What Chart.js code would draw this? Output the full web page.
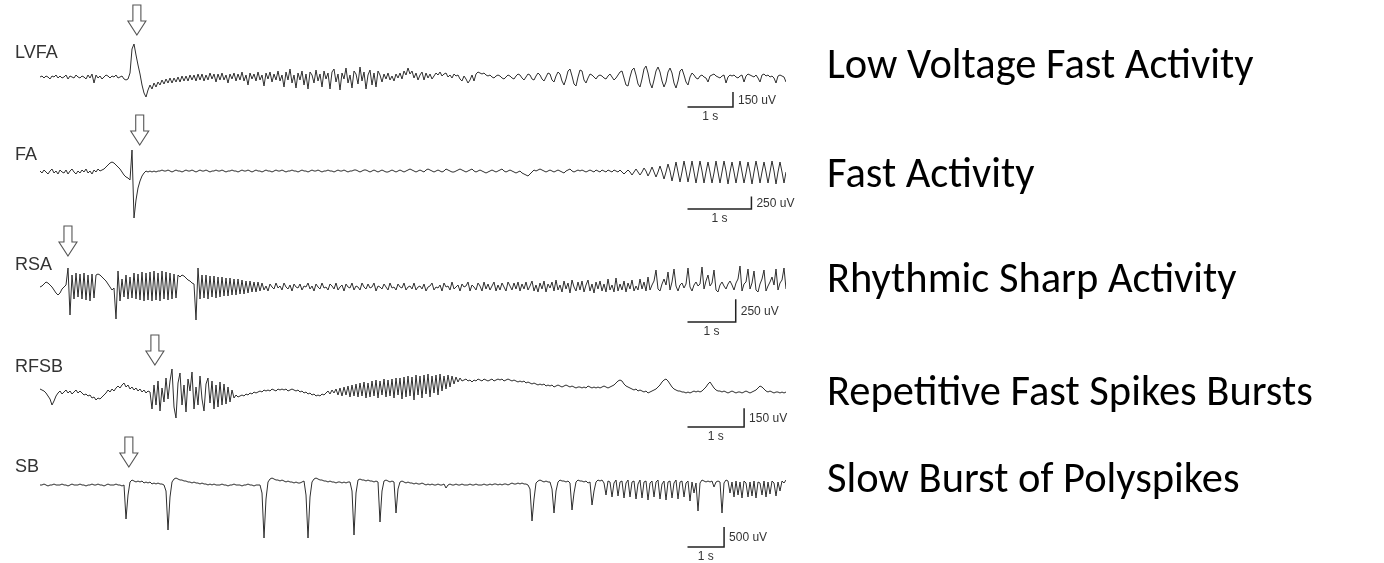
<!DOCTYPE html>
<html>
<head>
<meta charset="utf-8">
<script src="https://cdn.jsdelivr.net/npm/chart.js@4.4.1/dist/chart.umd.min.js"></script>
<style>
  html, body { margin: 0; padding: 0; background: #ffffff; }
  canvas { display: block; }
</style>
</head>
<body>
<canvas id="eeg" width="1384" height="563"></canvas>
<script>
// ---- Recording data -------------------------------------------------------
const channelNames = ['LVFA', 'FA', 'RSA', 'RFSB', 'SB'];
const patternNames = [
  'Low Voltage Fast Activity',
  'Fast Activity',
  'Rhythmic Sharp Activity',
  'Repetitive Fast Spikes Bursts',
  'Slow Burst of Polyspikes'
];
const spanSeconds = [16.4, 11.67, 15.47, 13.18, 20.4];   // length of each excerpt
const onsetSeconds = [2.13, 1.56, 0.58, 2.03, 2.43];     // seizure onset (arrow)
const scaleBarUV = [150, 250, 250, 150, 500];
const scaleBarSeconds = [1, 1, 1, 1, 1];

// evenly sampled traces, microvolts
const lvfaUV = [
  0, 10, -10, 10, 0, -20, 10, 0, 20, -10,
  10, -10, 0, 20, -20, 10, 0, -10, 20, 0,
  -10, 10, 0, -20, 20, -10, 30, -60, 20, -10,
  10, -20, 0, 20, 10, -10, 10, 0, 20, -10,
  0, 10, -20, -30, -20, 40, 280, 330, 220, 120,
  30, -80, -160, -200, -130, -80, -120, -60, -100, -50,
  -80, -30, -70, -20, -60, -10, -60, -10, -50, 0,
  -50, 10, -40, 10, -40, 20, -30, 20, -40, 30,
  -30, 30, -40, 20, -30, 40, -20, 30, -50, 30,
  -30, 40, -30, 20, -60, 30, -20, 40, -40, 30,
  -30, 50, -40, 20, -80, 40, -20, 30, -40, 50,
  -30, 20, -90, 40, -20, 50, -50, 30, -30, 60,
  -40, 20, -100, 50, -30, 80, -60, 20, -110, 40,
  -30, 60, -80, 30, -120, 50, 20, -60, 70, -40,
  30, -100, 60, -20, 40, -120, 50, 80, -50, 30,
  -130, 40, -20, 90, -60, 20, -110, 60, 30, -70,
  100, -40, 50, -120, 20, 70, -80, 40, -100, 60,
  20, -50, 30, -20, 40, -30, 10, -40, 30, -10,
  40, -20, 60, 20, 90, 30, 60, -10, 40, -30,
  20, 50, -30, 40, -10, 30, -20, 10, 40, 20,
  50, 10, 30, 40, 0, 20, -10, 30, 10, 20,
  -20, -40, 10, -20, -60, -30, 20, -40, 30, 50,
  40, 30, 40, 20, 10, 20, 0, -10, 10, 20,
  10, -10, -20, 0, 20, 10, -10, -20, 10, 30,
  20, -10, -30, 0, 30, 20, -20, -30, 10, 40,
  20, -20, -40, 0, 40, 30, -30, -50, 10, 50,
  30, -40, -80, -20, 60, 80, 10, -70, -90, 0,
  70, 60, -30, -60, -10, 30, 20, 0, -20, 10,
  20, 10, -10, -20, 10, 30, 0, -30, -10, 20,
  50, 60, -10, -80, -90, 0, 70, 90, 20, -70,
  -100, -20, 80, 110, 40, -60, -110, -30, 60, 100,
  50, -40, -100, -50, 50, 90, 40, -60, -110, -40,
  60, 80, 20, -50, -80, 0, 40, 20, -10, -20,
  10, 20, 0, -10, -50, 10, 20, 30, 10, 0,
  -10, 10, 20, -60, 0, 20, 10, 20, 0, -10,
  10, 20, -50, 10, 30, 20, 10, 0, 20, -10,
  -50, 20, 30, 10, 20, 0, 10, -10, -60, 10,
  20, 10, 0, -50
];

const faUV = [
  20, -20, 40, 0, -40, 20, 60, -20, 20, -40,
  40, 0, -20, 40, -40, 20, 60, 0, -40, 20,
  -20, 40, 0, 60, -20, 20, -40, 40, 0, 60,
  20, 40, 60, 100, 140, 180, 200, 180, 140, 100,
  60, 0, -60, -100, -120, -160, 440, -920, -560, -320,
  -180, -80, -20, 20, 0, 20, 0, 20, 0, 20,
  20, 40, 20, 20, 40, 20, 0, 20, 40, 20,
  20, 0, 20, 40, 20, 20, 40, 20, 0, 20,
  40, 20, 20, 40, 20, 0, 20, 20, 40, 20,
  20, 40, 20, 0, 20, 20, 40, 20, 20, 0,
  20, 40, 20, 20, 40, 20, 0, 20, 40, 20,
  20, 0, 20, 40, 20, 20, 0, 20, 40, 20,
  20, 40, 20, 0, 20, 20, 40, 20, 20, 0,
  20, 40, 20, 20, 0, 20, 40, 20, 20, 40,
  20, 0, 20, 20, 40, 20, 20, 0, 20, 40,
  20, 20, 40, 20, 0, 20, 20, 40, 40, 20,
  0, 20, 40, 40, 20, 0, 20, 40, 20, 0,
  20, 40, 20, 0, 0, 20, 40, 20, 0, 20,
  40, 20, 0, 20, 40, 60, 40, 20, 0, 20,
  40, 20, 0, 40, 60, 40, 20, 0, 20, 40,
  20, 0, 20, 60, 40, 20, 0, 0, 20, 40,
  60, 40, 20, 0, 20, 40, 60, 20, 0, 20,
  40, 20, 0, -20, 0, 20, 40, 20, 0, 20,
  40, 60, 20, 0, 20, 40, 20, 0, -20, 0,
  20, -20, -40, -60, -80, -40, 0, 40, 20, 40,
  60, 40, 20, 0, 20, 40, 20, 0, 20, 40,
  20, 0, -20, 20, 40, 60, 20, 0, 20, 40,
  20, 40, 20, 0, 20, 40, 20, 0, 40, 20,
  0, 40, 20, 0, 40, 20, 0, 40, 20, 0,
  40, 0, -40, 0, 40, 0, -60, 0, 60, 0,
  -60, 0, 80, 20, -80, 0, 100, 0, -100, 0,
  120, 0, -140, 0, 160, 20, -180, 0, 200, 0,
  -200, 0, 220, 20, -200, 0, 220, 0, -220, 0,
  220, 20, -220, 0, 200, 0, -220, -20, 220, 0,
  -220, 0, 220, 20, -240, 0, 200, 0, -220, 0,
  220, 0, -220, -20, 200, 0, -240, 0, 220, 20,
  -220, 0, 200, 0, -220, 0, 220, 20, -240, 0,
  200, 0, -220, 0
];

const rsaUV = [
  0, 11, 33, 55, 44, 22, 0, -33, -66, -88,
  -66, -22, 0, 22, 209, -308, 132, -132, 154, -110,
  143, -132, 154, -143, 132, -154, 143, -121, 132, 143,
  132, 110, 88, 66, 33, 0, -33, -11, -352, 176,
  -154, 88, -110, 132, -132, 110, -121, 154, -132, 143,
  -143, 165, -154, 154, -143, 165, -154, 176, -143, 154,
  -154, 176, -132, 165, -143, 154, -132, 143, -121, 132,
  110, 132, 121, 99, 77, 66, 44, 33, -363, 209,
  -132, 132, -121, 132, -132, 121, -110, 121, -121, 110,
  -110, 110, -99, 99, -99, 99, -88, 88, -88, 88,
  -77, 77, -77, 66, -66, 66, -55, 55, -55, 55,
  -44, 44, -33, 11, -44, 33, 0, -22, 44, -11,
  11, -33, 44, 0, -22, 22, -44, 33, 0, -11,
  33, -33, 11, 0, 44, -22, 11, -44, 33, 0,
  -22, 44, -11, 0, -33, 33, 11, -22, 44, -33,
  0, 22, -44, 33, 0, -11, 44, -33, 11, 0,
  -33, 44, 0, -22, 33, -11, 0, 44, -44, 11,
  0, -22, 33, 0, -33, 44, -11, 0, -33, 33,
  0, -11, 44, -33, 0, 11, -22, 44, -33, 0,
  11, -22, 33, -44, 0, 11, 44, -33, 0, -11,
  22, -44, 44, 0, 11, -33, 55, -22, 0, 22,
  -44, 33, 0, 11, 55, -44, 22, 0, -33, 44,
  11, -44, 55, -22, 33, -33, 11, 55, -44, 22,
  -33, 44, 0, -44, 55, 11, -33, 44, -22, 55,
  -44, 33, -22, 55, -33, 11, 66, -44, 22, -55,
  44, -22, 66, -55, 33, -11, 55, -44, 77, -33,
  22, -55, 66, -22, 44, -66, 77, 0, -44, 55,
  -33, 66, -55, 22, 77, -44, 33, -66, 55, -22,
  66, -44, 33, -55, 88, -33, 22, -55, 99, -44,
  33, -33, 66, -55, 44, -22, 77, -44, 11, -33,
  88, -22, 55, -44, 110, -33, 22, 66, 187, -22,
  -44, 33, 88, 22, 165, -33, 55, 198, 11, -44,
  22, 44, -11, 33, 209, 0, -44, 22, 55, 11,
  33, 220, -22, 66, 132, 11, 44, 187, -33, -55,
  22, 55, 11, -22, 33, 66, 22, -33, 44, 88,
  231, -44, 33, 55, 198, -22, 44, 176, -33, -55,
  33, 88, 187, -44, 11, 55, 110, 22, 198, -33,
  44, 77, 209, -22
];

const rfsbUV = [
  32, 24, 16, 0, -24, -48, -96, -64, -24, 0,
  16, -8, 8, 24, 0, 16, -8, 8, 24, 0,
  16, 0, -16, -8, -24, -16, -40, -32, -56, -40,
  -48, -32, -16, 0, 24, 8, 32, 16, 40, 56,
  40, 64, 80, 48, 64, 32, 48, 24, 40, 16,
  32, 8, 24, 0, 16, 8, -128, 64, -96, 96,
  -144, 40, -72, 120, -48, 96, 192, -112, -200, 80,
  160, -96, 64, -152, 112, 16, 168, -128, 48, -96,
  136, -48, -144, 72, 120, -80, 96, -128, 64, -112,
  88, -96, 72, -88, 48, -72, 24, -40, -16, -32,
  -24, -16, -24, -8, -16, 0, -8, 8, 0, 8,
  16, 8, 24, 16, 24, 16, 32, 24, 16, 32,
  24, 32, 24, 32, 16, 24, 32, 24, 16, 24,
  8, 16, 0, 8, -8, 0, -16, -8, -24, -16,
  -24, -8, -16, 0, 16, -8, 24, 0, 32, -16,
  40, -24, 48, -16, 56, -32, 64, -24, 72, -32,
  80, -24, 88, -40, 80, -32, 96, -24, 104, -40,
  96, -16, 112, -32, 104, -24, 112, -40, 120, -16,
  120, -48, 128, -32, 136, -24, 128, -56, 144, -16,
  136, -40, 144, -8, 152, -32, 136, 0, 144, -16,
  152, 16, 136, 32, 144, 48, 136, 72, 128, 88,
  120, 96, 104, 112, 96, 104, 88, 104, 96, 112,
  104, 96, 112, 104, 96, 104, 112, 96, 104, 112,
  104, 112, 96, 104, 112, 104, 96, 104, 96, 88,
  96, 88, 96, 80, 88, 80, 72, 80, 72, 64,
  72, 64, 72, 56, 64, 56, 64, 48, 56, 64,
  56, 48, 56, 64, 56, 48, 56, 48, 40, 48,
  48, 40, 48, 40, 56, 48, 40, 48, 40, 48,
  40, 48, 56, 48, 40, 48, 56, 64, 80, 96,
  104, 96, 72, 56, 48, 40, 32, 24, 32, 16,
  24, 16, 8, 16, 0, 8, 16, 24, 32, 48,
  64, 88, 104, 112, 96, 72, 48, 32, 24, 16,
  16, 8, 8, 0, 8, 0, 8, 16, 8, 16,
  8, 16, 32, 48, 72, 88, 64, 40, 24, 16,
  16, 8, 16, 8, 0, 8, 16, 8, 0, 8,
  8, 0, 8, 16, 8, 0, 8, 16, 24, 40,
  56, 48, 32, 16, 8, 16, 8, 0, 8, 8,
  0, 8, 0, 8
];

const sbUV = [
  0, 0, 25, 0, -25, 0, 0, 25, 0, 0,
  0, 25, 0, 0, -25, 0, 25, 0, 0, 0,
  25, 0, 0, -25, 0, 0, 25, 0, 0, 25,
  0, 0, -25, 0, 25, 0, 0, 0, 25, 0,
  0, -25, 0, -850, -250, 75, 125, 100, 75, 100,
  75, 100, 50, 75, 50, 75, 25, 50, 25, 50,
  25, 25, 0, -150, -1125, -300, 75, 150, 175, 150,
  125, 125, 100, 100, 75, 75, 50, 75, 50, 50,
  25, 50, 25, 25, 0, 25, 0, 25, 0, 0,
  0, 25, 0, 0, -25, 0, 0, 25, 0, 0,
  0, -25, 0, 0, 25, 0, 0, -25, 0, 0,
  0, -200, -1325, -350, 75, 150, 175, 150, 125, 125,
  100, 125, 100, 75, 100, 75, 75, 50, 75, 50,
  50, 75, 100, -250, -1325, -300, 75, 150, 175, 150,
  125, 125, 100, 100, 75, 100, 75, 75, 50, 75,
  75, 50, 75, 50, 75, 75, -150, -1250, -200, 125,
  150, 125, 125, 100, 125, 100, 100, 75, 100, 75,
  -925, -150, 100, 125, 100, 75, 100, 75, -700, -100,
  75, 100, 75, 50, 75, 50, 50, 25, 50, 25,
  25, 50, 25, 0, 25, 0, 25, 0, 0, 25,
  0, 0, 25, -75, 0, 25, 0, 0, 25, 0,
  0, 25, 0, 0, 0, 25, 0, 0, 25, 0,
  0, 0, 25, 0, 0, 25, 0, 25, 25, 0,
  25, 0, 25, 25, 0, 25, 50, 25, 25, 50,
  25, 50, 25, 25, 0, -100, -900, -350, 50, 100,
  125, 100, 75, 100, 75, 75, -100, -700, -150, 75,
  125, 100, 100, 75, 100, 50, -625, -200, 75, 125,
  100, 100, 75, 100, 50, 75, -500, -150, 75, 125,
  100, 125, 50, -250, 100, 75, -300, 50, 125, -275,
  75, 100, -325, 50, 125, -300, 75, 100, -350, 25,
  125, -325, 75, 100, -375, 50, 100, -300, 75, 125,
  -350, 25, 100, -375, 75, 100, -325, 50, 125, -350,
  75, 100, -300, 50, 100, -400, 75, -200, 50, -650,
  50, 125, 100, 75, 100, 75, 100, -50, 75, 100,
  75, -700, 50, 125, 100, -200, 75, -300, 100, -250,
  75, -325, 100, 50, -300, 75, -275, 100, -325, 75,
  50, -250, 100, -300, 75, -225, 100, 50, -275, 75,
  -150, 100, 50, 125
];

const traces = [lvfaUV, faUV, rsaUV, rfsbUV, sbUV];

// ---- Page layout ----------------------------------------------------------
const W = 1384, H = 563;
const plotLeft = 40, plotRight = 786;
const barLeft = 687.5;
const rows = [
  { baseline: 77,  uvPerPx: 10, labelY: 58,  arrowTipY: 35,  barY: 107, titleY: 78 },
  { baseline: 172, uvPerPx: 20, labelY: 160, arrowTipY: 145, barY: 209, titleY: 187 },
  { baseline: 287, uvPerPx: 11, labelY: 270, arrowTipY: 256, barY: 322, titleY: 292 },
  { baseline: 393, uvPerPx: 8,  labelY: 372, arrowTipY: 365, barY: 427, titleY: 405 },
  { baseline: 485, uvPerPx: 25, labelY: 472, arrowTipY: 467, barY: 547, titleY: 492 }
];

const traceColor = '#2e2e2e';
const labelFont = '18px "Liberation Sans", Arial, sans-serif';
const barFont = '12px "Liberation Sans", Arial, sans-serif';
const titleFont = '42.5px Carlito, Calibri, Lato, "Open Sans", sans-serif';

// ---- Chart ---------------------------------------------------------------
const datasets = traces.map((vals, r) => ({
  label: channelNames[r],
  data: vals.map((v, i) => ({ x: i * spanSeconds[r] / (vals.length - 1), y: v })),
  xAxisID: 'x' + r,
  yAxisID: 'y' + r,
  borderColor: traceColor,
  borderWidth: 1,
  pointRadius: 0,
  tension: 0,
  fill: false
}));

const scales = {};
rows.forEach((row, r) => {
  scales['x' + r] = { type: 'linear', position: 'bottom', display: false, min: 0, max: spanSeconds[r] };
  scales['y' + r] = {
    type: 'linear', position: 'left', display: false,
    min: -(H - row.baseline) * row.uvPerPx,
    max: row.baseline * row.uvPerPx
  };
});

function drawArrow(ctx, cx, tipY) {
  const shaftHalf = 4, headHalf = 9, headLen = 14, total = 30;
  const top = tipY - total, neck = tipY - headLen;
  ctx.beginPath();
  ctx.moveTo(cx - shaftHalf, top);
  ctx.lineTo(cx + shaftHalf, top);
  ctx.lineTo(cx + shaftHalf, neck);
  ctx.lineTo(cx + headHalf, neck);
  ctx.lineTo(cx, tipY);
  ctx.lineTo(cx - headHalf, neck);
  ctx.lineTo(cx - shaftHalf, neck);
  ctx.closePath();
  ctx.fillStyle = '#ffffff';
  ctx.fill();
  ctx.strokeStyle = '#555555';
  ctx.lineWidth = 1.1;
  ctx.stroke();
}

const decorations = {
  id: 'eegDecorations',
  afterDraw(chart) {
    const ctx = chart.ctx;
    ctx.save();
    rows.forEach((row, r) => {
      const xs = chart.scales['x' + r];
      const ys = chart.scales['y' + r];

      // channel label
      ctx.fillStyle = '#333333';
      ctx.font = labelFont;
      ctx.textAlign = 'left';
      ctx.textBaseline = 'alphabetic';
      ctx.fillText(channelNames[r], 15, row.labelY);

      // onset arrow
      drawArrow(ctx, xs.getPixelForValue(onsetSeconds[r]), row.arrowTipY);

      // calibration bar
      const barW = xs.getPixelForValue(scaleBarSeconds[r]) - xs.getPixelForValue(0);
      const barH = ys.getPixelForValue(0) - ys.getPixelForValue(scaleBarUV[r]);
      const x1 = barLeft + barW;
      ctx.strokeStyle = '#222222';
      ctx.lineWidth = 1.5;
      ctx.beginPath();
      ctx.moveTo(barLeft, row.barY);
      ctx.lineTo(x1, row.barY);
      ctx.lineTo(x1, row.barY - barH);
      ctx.stroke();
      ctx.fillStyle = '#333333';
      ctx.font = barFont;
      ctx.textBaseline = 'middle';
      ctx.textAlign = 'left';
      ctx.fillText(scaleBarUV[r] + ' uV', x1 + 5, row.barY - barH / 2 + 1);
      ctx.textAlign = 'center';
      ctx.fillText(scaleBarSeconds[r] + ' s', barLeft + barW / 2, row.barY + 10);

      // pattern name
      ctx.fillStyle = '#000000';
      ctx.font = titleFont;
      ctx.textAlign = 'left';
      ctx.textBaseline = 'alphabetic';
      ctx.fillText(patternNames[r], 827, row.titleY);
    });
    ctx.restore();
  }
};

new Chart(document.getElementById('eeg'), {
  type: 'line',
  data: { datasets },
  options: {
    responsive: false,
    animation: false,
    devicePixelRatio: 1,
    parsing: false,
    normalized: true,
    layout: { padding: { left: plotLeft, right: W - plotRight, top: 0, bottom: 0 } },
    scales,
    plugins: { legend: { display: false }, tooltip: { enabled: false } },
    elements: { point: { radius: 0 } }
  },
  plugins: [decorations]
});
</script>
</body>
</html>
